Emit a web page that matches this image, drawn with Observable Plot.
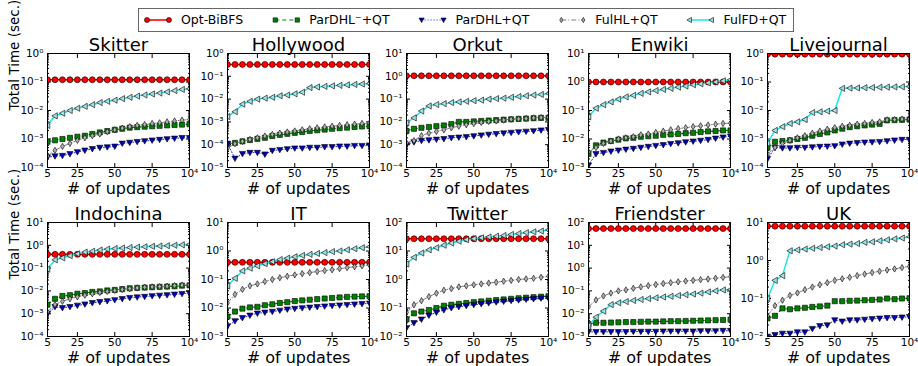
<!DOCTYPE html>
<html><head><meta charset="utf-8">
<script src="https://cdn.jsdelivr.net/npm/d3@7"></script>
<script src="https://cdn.jsdelivr.net/npm/@observablehq/plot@0.6"></script>
<style>
body{margin:0;background:#fff;font-family:"DejaVu Sans",sans-serif;}
#fig{position:relative;width:918px;height:366px;overflow:hidden;background:#fff;}
#fig svg.panel{position:absolute;}
#legend{position:absolute;left:138px;top:8px;height:24px;border:1px solid #666;box-sizing:border-box;background:#fff;}
</style></head><body><div id="fig"></div>
<script>
// ---------------- data ----------------
const updates = [5,10,15,20,25,30,35,40,45,50,55,60,65,70,75,80,85,90,95,100];
const xTicks = [5,25,50,75,100];
const xTickLabels = ["5","25","50","75","10⁴"];
const seriesNames = ["Opt-BiBFS","ParDHL⁻+QT","ParDHL+QT","FulHL+QT","FulFD+QT"];
const datasetNames = ["Skitter","Hollywood","Orkut","Enwiki","Livejournal","Indochina","IT","Twitter","Friendster","UK"];
const yDomains = [[1e-4,1],[1e-5,1],[1e-4,10],[1e-3,10],[1e-4,1],[1e-4,10],[1e-3,10],[1e-2,100],[1e-3,100],[1e-2,10]];

// each dataset: [Opt-BiBFS, ParDHL⁻+QT, ParDHL+QT, FulHL+QT, FulFD+QT]
const skitter = [
  [0.12,0.12,0.12,0.12,0.12,0.12,0.12,0.12,0.12,0.12,0.12,0.12,0.12,0.12,0.12,0.12,0.12,0.12,0.12,0.12],
  [8e-4,9e-4,1e-3,1.1e-3,1.2e-3,1.3e-3,1.5e-3,1.7e-3,1.9e-3,2.1e-3,2.3e-3,2.5e-3,2.6e-3,2.7e-3,2.8e-3,2.9e-3,3.0e-3,3.1e-3,3.2e-3,3.3e-3],
  [2.3e-4,2.5e-4,2.6e-4,3e-4,3.5e-4,4e-4,4.5e-4,5e-4,5.2e-4,5.5e-4,7e-4,7.5e-4,8e-4,8.5e-4,9e-4,9.5e-4,1e-3,1.05e-3,1.1e-3,1.1e-3],
  [2.5e-4,4e-4,5.5e-4,7e-4,9e-4,1.1e-3,1.3e-3,1.5e-3,1.8e-3,2.1e-3,2.4e-3,2.7e-3,3e-3,3.2e-3,3.5e-3,3.7e-3,4e-3,4.3e-3,4.6e-3,4.8e-3],
  [3e-3,6.5e-3,8e-3,1e-2,1.2e-2,1.4e-2,1.6e-2,1.9e-2,2.1e-2,2.3e-2,2.6e-2,2.9e-2,3.2e-2,3.5e-2,3.8e-2,4.1e-2,4.5e-2,5e-2,5.5e-2,5.8e-2]
];
const hollywood = [
  [0.33,0.33,0.33,0.33,0.33,0.33,0.33,0.33,0.33,0.33,0.33,0.33,0.33,0.33,0.33,0.33,0.33,0.33,0.33,0.33],
  [1.1e-4,1.2e-4,1.4e-4,1.6e-4,1.8e-4,2e-4,2.4e-4,2.7e-4,3e-4,3.3e-4,3.6e-4,4e-4,4.3e-4,4.6e-4,5e-4,5.3e-4,5.6e-4,6e-4,6.3e-4,6.6e-4],
  [1.1e-4,2.5e-5,4e-5,4.5e-5,4.5e-5,3.8e-5,5.5e-5,6e-5,6.5e-5,7e-5,7e-5,7.5e-5,7.5e-5,8e-5,8e-5,8.5e-5,8.5e-5,9e-5,9e-5,9.5e-5],
  [7e-5,1.1e-4,1.4e-4,1.7e-4,2e-4,2.4e-4,2.8e-4,3.2e-4,3.6e-4,4e-4,4.5e-4,5e-4,5.5e-4,6e-4,6.5e-4,7e-4,7.5e-4,8e-4,8.5e-4,9e-4],
  [1.7e-3,2.8e-3,6e-3,8e-3,1e-2,1.1e-2,1.2e-2,1.4e-2,1.5e-2,1.7e-2,2e-2,3.2e-2,3.4e-2,3.6e-2,3.8e-2,4e-2,4.2e-2,4.4e-2,4.6e-2,4.8e-2]
];
const orkut = [
  [1.05,1.05,1.05,1.05,1.05,1.05,1.05,1.05,1.05,1.05,1.05,1.05,1.05,1.05,1.05,1.05,1.05,1.05,1.05,1.05],
  [4e-3,5e-3,5.5e-3,6e-3,6.5e-3,7e-3,8e-3,1e-2,1e-2,1.05e-2,1.1e-2,1.15e-2,1.2e-2,1.25e-2,1.3e-2,1.35e-2,1.4e-2,1.45e-2,1.5e-2,1.5e-2],
  [1e-3,1.3e-3,1.5e-3,1.6e-3,1.7e-3,1.8e-3,2e-3,2.1e-3,2.2e-3,2.4e-3,2.6e-3,2.8e-3,3e-3,3.2e-3,3.4e-3,3.6e-3,3.8e-3,4e-3,4.3e-3,4.5e-3],
  [1.2e-3,1.5e-3,2.5e-3,3.2e-3,3.8e-3,4.5e-3,5.5e-3,6.5e-3,7.5e-3,8.5e-3,9.5e-3,1.05e-2,1.1e-2,1.2e-2,1.3e-2,1.35e-2,1.4e-2,1.5e-2,1.55e-2,1.6e-2],
  [9e-3,1.5e-2,3e-2,5e-2,5.8e-2,6.3e-2,7e-2,7.5e-2,8e-2,8.5e-2,9e-2,1e-1,1.05e-1,1.1e-1,1.2e-1,1.3e-1,1.4e-1,1.5e-1,1.6e-1,1.75e-1]
];
const enwiki = [
  [1.0,1.0,1.0,1.0,1.0,1.0,1.0,1.0,1.0,1.0,1.0,1.0,1.0,1.0,1.0,1.0,1.0,1.0,1.0,1.0],
  [3e-3,6e-3,7.5e-3,8.5e-3,9.5e-3,1.05e-2,1.1e-2,1.2e-2,1.25e-2,1.3e-2,1.4e-2,1.45e-2,1.5e-2,1.6e-2,1.65e-2,1.75e-2,1.85e-2,1.9e-2,2e-2,2e-2],
  [1.2e-3,3e-3,3.3e-3,3.7e-3,4e-3,4.3e-3,4.6e-3,5e-3,5.4e-3,5.8e-3,6.2e-3,6.8e-3,7.2e-3,7.8e-3,8.3e-3,8.8e-3,9.5e-3,1.05e-2,1.15e-2,1.25e-2],
  [3.5e-3,5e-3,7e-3,8.5e-3,1e-2,1.1e-2,1.2e-2,1.4e-2,1.5e-2,1.7e-2,1.9e-2,2.1e-2,2.3e-2,2.5e-2,2.7e-2,2.9e-2,3.1e-2,3.3e-2,3.5e-2,3.6e-2],
  [6e-2,1.2e-1,1.6e-1,2e-1,2.5e-1,3e-1,3.4e-1,4e-1,4.5e-1,5e-1,5.5e-1,6e-1,6.6e-1,7.2e-1,8e-1,8.6e-1,9.3e-1,1.0,1.1,1.2]
];
const livejournal = [
  [0.95,0.95,0.95,0.95,0.95,0.95,0.95,0.95,0.95,0.95,0.95,0.95,0.95,0.95,0.95,0.95,0.95,0.95,0.95,0.95],
  [5e-4,8e-4,8.5e-4,9e-4,1e-3,1.1e-3,1.3e-3,1.5e-3,1.7e-3,2e-3,2.3e-3,2.6e-3,2.8e-3,3e-3,3.2e-3,3.4e-3,4.5e-3,4.6e-3,4.7e-3,4.8e-3],
  [2e-4,5e-4,4.8e-4,4.8e-4,5e-4,5e-4,5.2e-4,5.4e-4,5.5e-4,5.7e-4,6.5e-4,7e-4,7.3e-4,7.6e-4,7.8e-4,8e-4,8.5e-4,9e-4,9.5e-4,9.5e-4],
  [3e-4,5e-4,7e-4,9e-4,1.1e-3,1.3e-3,1.6e-3,1.9e-3,2.2e-3,2.5e-3,2.8e-3,3e-3,3.3e-3,3.5e-3,3.8e-3,4e-3,4.7e-3,4.8e-3,5e-3,5e-3],
  [7e-4,2e-3,2.7e-3,3.5e-3,4e-3,4.8e-3,8.5e-3,9e-3,9.5e-3,1e-2,6e-2,6.1e-2,6.2e-2,6.3e-2,6.4e-2,6.5e-2,6.6e-2,6.7e-2,6.8e-2,7e-2]
];
const indochina = [
  [0.4,0.4,0.4,0.4,0.4,0.4,0.4,0.4,0.4,0.4,0.4,0.4,0.4,0.4,0.4,0.4,0.4,0.4,0.4,0.4],
  [2.5e-3,4.5e-3,6e-3,6.5e-3,7.5e-3,8e-3,9e-3,9.5e-3,1.05e-2,1.1e-2,1.2e-2,1.3e-2,1.35e-2,1.4e-2,1.45e-2,1.5e-2,1.55e-2,1.6e-2,1.7e-2,1.75e-2],
  [1e-3,2e-3,1.8e-3,2e-3,2.3e-3,2.6e-3,3e-3,3.3e-3,3.6e-3,4e-3,4.5e-3,5e-3,5.3e-3,5.6e-3,6e-3,6.3e-3,6.6e-3,7e-3,7.5e-3,8e-3],
  [1.2e-3,2.5e-3,3.5e-3,4.5e-3,5.5e-3,6.5e-3,7.5e-3,8.5e-3,9.5e-3,1.05e-2,1.15e-2,1.25e-2,1.35e-2,1.45e-2,1.5e-2,1.55e-2,1.6e-2,1.7e-2,1.8e-2,1.85e-2],
  [9e-2,2.3e-1,2.8e-1,3.5e-1,4.2e-1,5e-1,5.5e-1,6.2e-1,6.8e-1,7.2e-1,7.6e-1,8e-1,8.3e-1,8.6e-1,9e-1,9.3e-1,9.6e-1,1.0,1.05,1.1]
];
const it = [
  [0.4,0.4,0.4,0.4,0.4,0.4,0.4,0.4,0.4,0.4,0.4,0.4,0.4,0.4,0.4,0.4,0.4,0.4,0.4,0.4],
  [5e-3,7.5e-3,9.5e-3,1.05e-2,1.1e-2,1.25e-2,1.35e-2,1.5e-2,1.6e-2,1.75e-2,1.85e-2,1.95e-2,2.05e-2,2.15e-2,2.25e-2,2.35e-2,2.45e-2,2.5e-2,2.55e-2,2.6e-2],
  [2.3e-3,3.5e-3,4.5e-3,5.5e-3,6.5e-3,7e-3,7.5e-3,8.2e-3,9e-3,9.5e-3,1e-2,1.05e-2,1.1e-2,1.15e-2,1.2e-2,1.25e-2,1.3e-2,1.35e-2,1.4e-2,1.45e-2],
  [1.5e-2,3e-2,4.5e-2,6e-2,7e-2,8.5e-2,1e-1,1.15e-1,1.3e-1,1.45e-1,1.6e-1,1.75e-1,1.9e-1,2.05e-1,2.2e-1,2.4e-1,2.6e-1,2.8e-1,3e-1,3.2e-1],
  [6e-2,1.1e-1,2e-1,2.5e-1,3e-1,3.6e-1,4.2e-1,5e-1,5.6e-1,6.3e-1,7e-1,7.6e-1,8.2e-1,8.8e-1,9.5e-1,1.0,1.1,1.2,1.3,1.4]
];
const twitter = [
  [27,27,27,27,27,27,27,27,27,27,27,27,27,27,27,27,27,27,27,27],
  [0.04,0.065,0.075,0.085,0.1,0.12,0.13,0.14,0.15,0.16,0.17,0.18,0.19,0.2,0.21,0.22,0.23,0.24,0.25,0.26],
  [0.02,0.03,0.04,0.055,0.07,0.085,0.1,0.11,0.12,0.13,0.14,0.15,0.16,0.17,0.18,0.19,0.2,0.21,0.22,0.22],
  [0.07,0.13,0.18,0.25,0.33,0.42,0.48,0.55,0.6,0.65,0.7,0.75,0.8,0.87,0.93,1.0,1.05,1.1,1.2,1.3],
  [3.5,6,8.5,11,13,16,19,22,25,27,29,31,33,35,38,41,44,47,50,55]
];
const friendster = [
  [54,54,54,54,54,54,54,54,54,54,54,54,54,54,54,54,54,54,54,54],
  [3.5e-3,4e-3,4e-3,4.1e-3,4.2e-3,4.3e-3,4.3e-3,4.4e-3,4.5e-3,4.5e-3,4.6e-3,4.7e-3,4.7e-3,4.8e-3,4.9e-3,5e-3,5.1e-3,5.2e-3,5.3e-3,5.5e-3],
  [1.6e-3,1.6e-3,1.6e-3,1.6e-3,1.6e-3,1.6e-3,1.65e-3,1.65e-3,1.65e-3,1.65e-3,1.7e-3,1.7e-3,1.7e-3,1.7e-3,1.7e-3,1.75e-3,1.75e-3,1.75e-3,1.8e-3,1.8e-3],
  [0.02,0.04,0.06,0.08,0.1,0.11,0.13,0.15,0.17,0.19,0.21,0.23,0.25,0.27,0.29,0.31,0.33,0.36,0.39,0.42],
  [3e-3,7e-3,1.3e-2,2.5e-2,3e-2,3.4e-2,3.8e-2,4.2e-2,4.6e-2,5e-2,5.4e-2,5.8e-2,6.3e-2,6.8e-2,7.3e-2,8e-2,9e-2,1e-1,1.1e-1,1.15e-1]
];
const uk = [
  [8,8,8,8,8,8,8,8,8,8,8,8,8,8,8,8,8,8,8,8],
  [0.03,0.035,0.055,0.052,0.055,0.057,0.06,0.062,0.065,0.085,0.085,0.087,0.088,0.09,0.092,0.094,0.1,0.096,0.1,0.102],
  [0.01,0.011,0.012,0.012,0.013,0.013,0.016,0.019,0.02,0.027,0.025,0.027,0.027,0.028,0.029,0.03,0.031,0.031,0.032,0.033],
  [0.035,0.065,0.09,0.12,0.14,0.17,0.2,0.23,0.26,0.3,0.33,0.36,0.4,0.44,0.48,0.52,0.56,0.6,0.65,0.7],
  [0.1,0.3,0.4,1.8,1.9,2.0,2.1,2.2,2.3,2.4,2.6,2.7,2.8,3.0,3.1,3.3,3.5,3.7,3.9,4.2]
];
const datasets = [skitter,hollywood,orkut,enwiki,livejournal,indochina,it,twitter,friendster,uk];

// ---------------- styles ----------------
const triDown = {draw(c, size){const r=Math.sqrt(size/Math.PI); c.moveTo(-r,-r*0.75); c.lineTo(r,-r*0.75); c.lineTo(0,r); c.closePath();}};
const triLeft = {draw(c, size){const r=Math.sqrt(size/Math.PI); c.moveTo(-r,0); c.lineTo(r*0.75,-r); c.lineTo(r*0.75,r); c.closePath();}};
const thinDiamond = {draw(c, size){const r=Math.sqrt(size/Math.PI)*1.05; c.moveTo(0,-r); c.lineTo(r*0.6,0); c.lineTo(0,r); c.lineTo(-r*0.6,0); c.closePath();}};
const styles = [
  {stroke:"#ff0000", width:1.6, dash:null, symbol:"circle", fill:"#ff0000", r:3.0},
  {stroke:"#008000", width:1.1, dash:"4,3", symbol:"square", fill:"#008000", r:2.9},
  {stroke:"#2020ff", width:1.0, dash:"1,2", symbol:triDown, fill:"#0000b4", r:3.1},
  {stroke:"#808080", width:1.0, dash:"5,2,1,2", symbol:thinDiamond, fill:"#b0b0b0", r:3.0},
  {stroke:"#1ee6e6", width:1.5, dash:null, symbol:triLeft, fill:"#a8dede", r:3.1}
];

const supMap = {"-":"⁻","0":"⁰","1":"¹","2":"²","3":"³","4":"⁴","5":"⁵","6":"⁶","7":"⁷","8":"⁸","9":"⁹"};
const fmtPow = v => "10" + String(Math.round(Math.log10(v))).split("").map(ch => supMap[ch]).join("");
const fmtX = v => xTickLabels[xTicks.indexOf(v)];
const none = () => "";

// ---------------- layout ----------------
const colLeft = [47, 227, 406, 588, 767];
const rowTop = [53, 222];
const plotW = 142, plotH = 114;
const mL = 46, mR = 10, mT = 24, mB = 44;

const fig = document.getElementById("fig");

datasets.forEach((data, i) => {
  const col = i % 5, row = Math.floor(i / 5);
  const rows = [];
  data.forEach((vals, s) => vals.forEach((v, j) => rows.push({x: updates[j], y: v, s})));
  const [lo, hi] = yDomains[i];
  const e0 = Math.round(Math.log10(lo)), e1 = Math.round(Math.log10(hi));
  const major = d3.range(e0, e1 + 1).map(e => Math.pow(10, e));
  const minor = [];
  for (let e = e0; e < e1; e++) for (let k = 2; k <= 9; k++) minor.push(k * Math.pow(10, e));

  const marks = [
    Plot.axisY({anchor:"left", ticks:major, tickSize:-4, tickPadding:8, tickFormat:fmtPow, label:null}),
    Plot.axisY({anchor:"left", ticks:minor, tickSize:-2, tickPadding:0, tickFormat:none, label:null}),
    Plot.axisY({anchor:"right", ticks:major, tickSize:-4, tickPadding:0, tickFormat:none, label:null}),
    Plot.axisY({anchor:"right", ticks:minor, tickSize:-2, tickPadding:0, tickFormat:none, label:null}),
    Plot.axisX({anchor:"bottom", ticks:xTicks, tickSize:-4, tickPadding:6, tickFormat:fmtX, label:null}),
    Plot.axisX({anchor:"top", ticks:xTicks, tickSize:-4, tickPadding:0, tickFormat:none, label:null})
  ];
  styles.forEach((st, s) => {
    const sub = rows.filter(d => d.s === s);
    marks.push(Plot.line(sub, {x:"x", y:"y", stroke:st.stroke, strokeWidth:st.width, strokeDasharray:st.dash, clip:true}));
    marks.push(Plot.dot(sub, {x:"x", y:"y", symbol:st.symbol, r:st.r, fill:st.fill, stroke:"black", strokeWidth:0.6, clip:true}));
  });
  marks.push(Plot.frame({stroke:"black", strokeWidth:1}));
  marks.push(Plot.text([datasetNames[i]], {frameAnchor:"top", dy:-3, lineAnchor:"bottom", fontSize:18, fill:"black"}));
  marks.push(Plot.text(["# of updates"], {frameAnchor:"bottom", dy:15, lineAnchor:"top", fontSize:16, fill:"black"}));
  if (col === 0) marks.push(Plot.text(["Total Time (sec.)"], {frameAnchor:"left", dx:-33, rotate:-90, fontSize:13.5, fill:"black"}));

  const svg = Plot.plot({
    width: plotW + mL + mR, height: plotH + mT + mB,
    marginLeft: mL, marginRight: mR, marginTop: mT, marginBottom: mB,
    x: {type:"linear", domain:[5, 100]},
    y: {type:"log", domain:[lo, hi]},
    style: {background:"transparent", fontFamily:"DejaVu Sans", fontSize:"10.5px", color:"black", overflow:"visible"},
    marks
  });
  svg.classList.add("panel");
  svg.style.left = (colLeft[col] - mL) + "px";
  svg.style.top = (rowTop[row] - mT) + "px";
  fig.appendChild(svg);
});

// ---------------- legend ----------------
const legend = document.createElement("div");
legend.id = "legend";
fig.appendChild(legend);
const lsvg = d3.select(legend).append("svg").attr("width", 700).attr("height", 22)
  .style("position","absolute").style("left","0").style("top","0");
const ly = 11;
const handleLen = 22, handlePad = 12, colGap = 32, padL = 8, padR = 7;
let cursor = padL;
styles.forEach((st, s) => {
  const a = cursor, b = cursor + handleLen, t = b + handlePad;
  lsvg.append("line").attr("x1", a).attr("x2", b).attr("y1", ly).attr("y2", ly)
    .attr("stroke", st.stroke).attr("stroke-width", st.width).attr("stroke-dasharray", st.dash);
  const type = st.symbol === "circle" ? d3.symbolCircle : st.symbol === "square" ? d3.symbolSquare : st.symbol;
  const path = d3.symbol(type, st.r * st.r * Math.PI * 0.7)();
  [a, b].forEach(x => lsvg.append("path").attr("d", path).attr("transform", `translate(${x},${ly})`)
    .attr("fill", st.fill).attr("stroke", "black").attr("stroke-width", 0.6));
  const txt = lsvg.append("text").attr("x", t).attr("y", ly).attr("dy", "0.35em").attr("font-size", 12.5)
    .attr("font-family", "DejaVu Sans").attr("fill", "black").text(seriesNames[s]);
  cursor = t + txt.node().getComputedTextLength() + colGap;
});
legend.style.width = (cursor - colGap + padR + 2) + "px";
</script></body></html>
